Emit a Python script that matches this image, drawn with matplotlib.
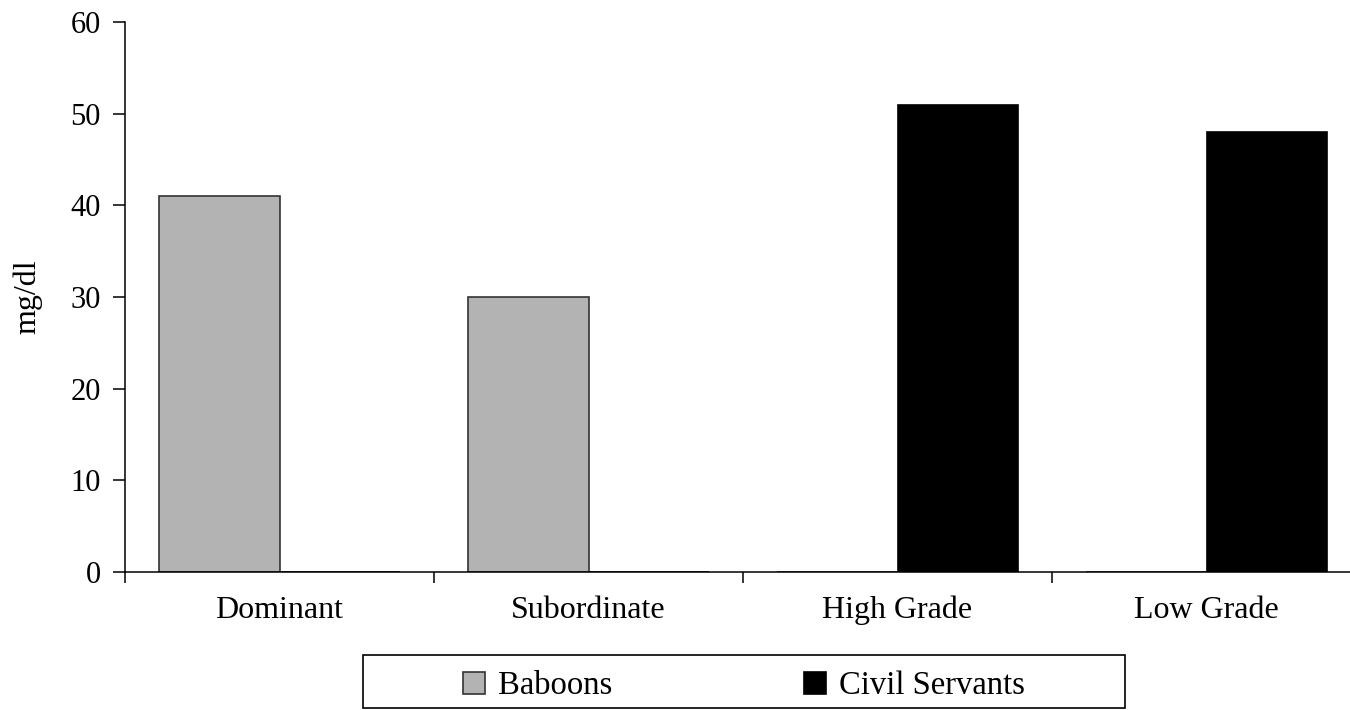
import matplotlib
matplotlib.use("Agg")
import matplotlib.pyplot as plt
import numpy as np
from matplotlib.patches import Rectangle, Patch

# data
categories = ["Dominant", "Subordinate", "High Grade", "Low Grade"]
baboons = [41, 30, 0, 0]
civil_servants = [0, 0, 51, 48]
series_names = ["Baboons", "Civil Servants"]

plt.rcParams["font.family"] = ["Liberation Serif", "DejaVu Serif"]

W, H = 1350, 710
fig = plt.figure(figsize=(W / 100, H / 100), dpi=100)
ax = fig.add_axes([125 / W, 138 / H, 1236 / W, 550 / H])

x = np.arange(len(categories))
bw = 0.39
ax.bar(x, baboons, width=-bw, align="edge", color="#b3b3b3",
       edgecolor="#333333", linewidth=1.2, zorder=2)
ax.bar(x, civil_servants, width=bw, align="edge", color="black",
       edgecolor="black", linewidth=1.2, zorder=2)

ax.set_xlim(-0.5, len(categories) - 0.5)
ax.set_ylim(0, 60)
ax.set_yticks(np.arange(0, 61, 10))
ax.tick_params(axis="y", direction="out", length=8.5, width=1.1, pad=9,
               labelsize=22)

# category boundaries as major ticks, names on minor ticks
ax.set_xticks(x - 0.5)
ax.set_xticklabels([])
ax.set_xticks(x, minor=True)
ax.set_xticklabels(categories, minor=True, fontsize=23)
ax.tick_params(axis="x", which="major", direction="out", length=8, width=1.1)
ax.tick_params(axis="x", which="minor", length=0, pad=17)

for s in ["top", "right"]:
    ax.spines[s].set_visible(False)
for s in ["left", "bottom"]:
    ax.spines[s].set_linewidth(1.1)

ax.set_ylabel("mg/dl", fontsize=23)
ax.yaxis.set_label_coords(-0.067, 0.5)

# legend with a square-cornered box around it
handles = [Patch(facecolor="#b3b3b3", edgecolor="#333333", linewidth=1.2),
           Patch(facecolor="black", edgecolor="black", linewidth=1.2)]
fig.legend(handles, series_names, loc="center", ncol=2,
           bbox_to_anchor=(744 / W, 1 - 686 / H), frameon=False,
           fontsize=23.5, handlelength=0.66, handleheight=0.66,
           handletextpad=0.39, columnspacing=5.9)
fig.patches.append(Rectangle((363 / W, 2 / H), 762 / W, 53 / H,
                             transform=fig.transFigure, fill=False,
                             edgecolor="black", linewidth=1.2))

fig.savefig("out.png", dpi=100)
